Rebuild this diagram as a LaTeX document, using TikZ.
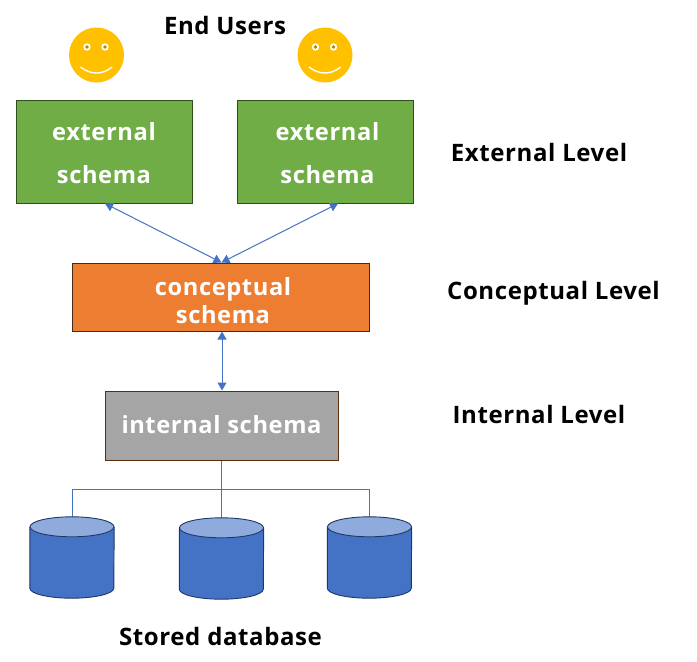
\documentclass[tikz,border=0pt]{standalone}
\usepackage{fontspec}
\setmainfont{Open Sans}[LetterSpace=2.5]
\usetikzlibrary{arrows.meta,calc}
\definecolor{conn}{HTML}{4472C4}
\definecolor{dbtop}{HTML}{8FAADC}
\definecolor{dbedge}{HTML}{1F3864}
\definecolor{smile}{HTML}{FFC000}
\definecolor{extg}{HTML}{70AD47}
\definecolor{extedge}{HTML}{2F4F1A}
\definecolor{conc}{HTML}{ED7D31}
\definecolor{concedge}{HTML}{4A2A12}
\definecolor{intg}{HTML}{A5A5A5}
\definecolor{intedge}{HTML}{5A2D0C}
\tikzset{
  box/.style={draw=#1,line width=1pt,inner sep=0pt,align=center,text=white,font=\fontsize{23.7}{28}\selectfont\bfseries},
  boxtext/.style={font=\fontsize{23.7}{28}\selectfont\bfseries,text=white,align=center,inner sep=0pt},
  extbox/.style={box=extedge,fill=extg,minimum width=176pt,minimum height=103pt},
  lvl/.style={inner sep=0pt,text=black,font=\fontsize{24}{28}\selectfont\bfseries},
  link/.style={draw=conn,line width=1pt},
  duplex/.style={link,{Triangle[length=8pt,width=9pt]}-{Triangle[length=8pt,width=9pt]}},
  slot/.style={inner sep=0pt,minimum width=84pt,minimum height=81pt},
  face/.style={circle,fill=smile,inner sep=0pt,minimum size=55pt}
}
\newcommand{\dbcyl}[1]{%
  \fill[conn] ($(#1.north west)+(0,10)$) -- ($(#1.south west)+(0,-10)$) arc[start angle=180,end angle=360,x radius=42,y radius=-10] -- ($(#1.north east)+(0,10)$) -- cycle;
  \draw[dbedge,line width=.9pt] ($(#1.north west)+(0,10)$) -- ($(#1.south west)+(0,-10)$) arc[start angle=180,end angle=360,x radius=42,y radius=-10] -- ($(#1.north east)+(0,10)$);
  \draw[dbedge,line width=.9pt,fill=dbtop] ($(#1.north)+(0,10)$) ellipse[x radius=42,y radius=10];
}
\newcommand{\smiley}[1]{%
  \fill[white] ($(#1)+(-9.5,-8)$) circle[radius=3.7];
  \fill[white] ($(#1)+(8.5,-8)$) circle[radius=3.7];
  \fill[smile!70!black] ($(#1)+(-9.5,-8)$) circle[radius=1.8];
  \fill[smile!70!black] ($(#1)+(8.5,-8)$) circle[radius=1.8];
  \draw[white,line width=1.4pt] ($(#1)+(-16,12)$) .. controls ($(#1)+(-6,20)$) and ($(#1)+(6,20)$) .. ($(#1)+(15.5,12)$);
}
\begin{document}
\begin{tikzpicture}[x=1pt,y=-1pt]
\useasboundingbox (0,0) rectangle (697,662);
\node[face] (f1) at (96.5,55) {};
\node[face] (f2) at (325,55) {};
\smiley{f1}\smiley{f2}
\node[lvl] (eu) at (225,25) {End Users};
\node[extbox,label={[boxtext,yshift=-1.5pt]center:{external\\[15pt]schema}}] (e1) at (104,151.5) {};
\node[extbox,label={[boxtext,yshift=-1.5pt,xshift=2pt]center:{external\\[15pt]schema}}] (e2) at (325.5,151.5) {};
\node[box=concedge,fill=conc,minimum width=297pt,minimum height=68pt,
  label={[boxtext,yshift=-3.5pt,xshift=2.5pt]center:{conceptual\\[0pt]schema}}] (c) at (220.5,297) {};
\node[box=intedge,fill=intg,minimum width=233pt,minimum height=69pt,
  label={[boxtext,yshift=.5pt]center:{internal schema}}] (i) at (221.5,425.5) {};
\node[lvl] (l1) at (539,152) {External Level};
\node[lvl] (l2) at (553.5,293) {Conceptual Level};
\node[lvl] (l3) at (539,414) {Internal Level};
\node[slot] (d1) at (72,557.5) {};
\node[slot] (d2) at (221.5,558.5) {};
\node[slot] (d3) at (369.5,557.5) {};
\node[lvl] (sd) at (220.5,636) {Stored database};
\draw[link] (i.south) -- (d2.north);
\draw[link] (d1.north) |- ($(i.south)+(0,29)$) -| (d3.north);
\dbcyl{d1}\dbcyl{d2}\dbcyl{d3}
\coordinate (ct) at ($(c.north)+(1,0)$);
\draw[duplex] ($(e1.south)+(1,0)$) -- (ct);
\draw[duplex] ($(e2.south)+(12.5,0)$) -- (ct);
\draw[duplex] ($(c.south)+(1.5,0)$) -- ($(i.north)+(.5,0)$);
\end{tikzpicture}
\end{document}
